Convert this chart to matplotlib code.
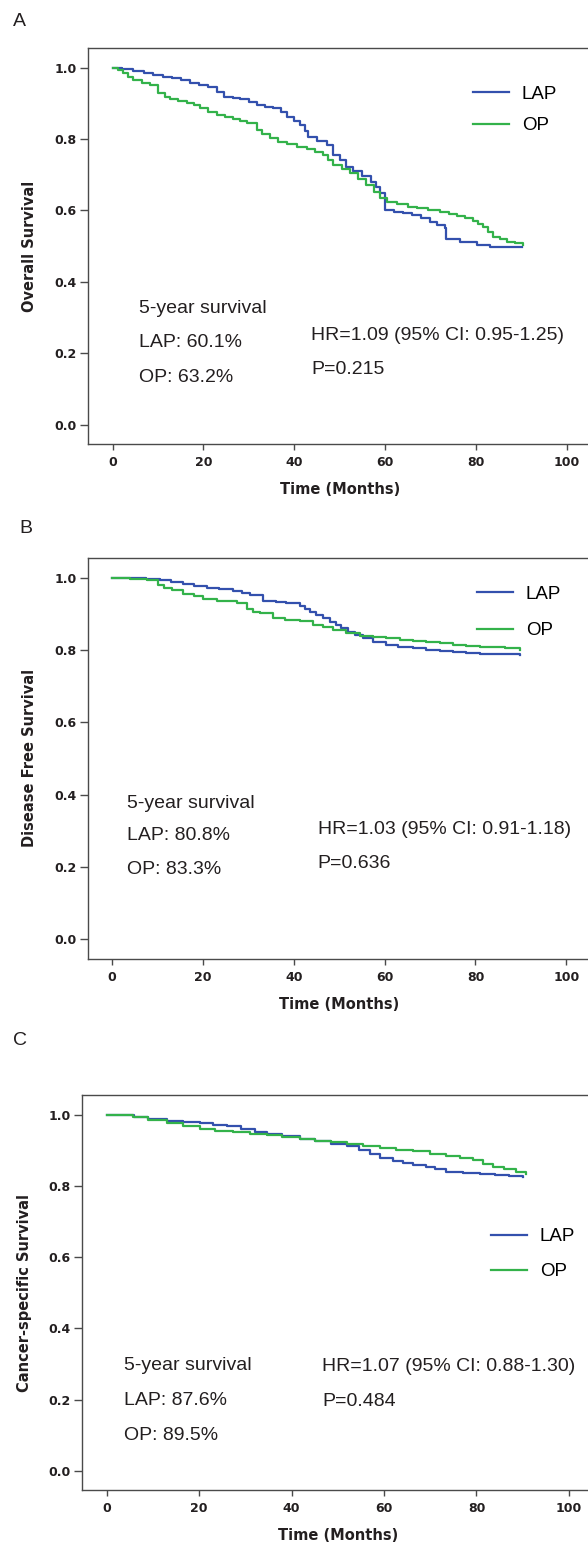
import numpy as np
import matplotlib
matplotlib.use("Agg")
import matplotlib.pyplot as plt

# ---- data (months, survival probability) ----
os_lap_t = [0, 2, 4.5, 7, 9, 11, 13, 15, 17, 19, 21, 23, 24.5, 26.5, 28, 30, 31.7, 33.5, 35.4, 37, 38.3,
            40, 41.3, 42.3, 43.1, 45, 47.1, 48.6, 50, 51.5, 53, 55, 57, 58, 58.9, 60, 62, 64, 66, 68,
            69.9, 71.5, 73.2, 73.5, 76.5, 80.2, 83.1, 87.1, 90.1]
os_lap_s = [1.000, 0.995, 0.991, 0.985, 0.980, 0.975, 0.970, 0.964, 0.958, 0.952, 0.945, 0.932, 0.919,
            0.914, 0.911, 0.903, 0.896, 0.891, 0.888, 0.876, 0.863, 0.850, 0.839, 0.823, 0.807, 0.795,
            0.783, 0.755, 0.740, 0.722, 0.710, 0.697, 0.681, 0.665, 0.648, 0.601, 0.597, 0.592, 0.588,
            0.580, 0.569, 0.560, 0.550, 0.519, 0.513, 0.503, 0.499, 0.497, 0.497]
os_op_t = [0, 1.2, 2.3, 3.5, 4.5, 6.5, 8.2, 10, 11.5, 12.6, 14.5, 16.3, 18, 19.2, 21, 22.9, 24.8, 26.6,
           28, 29.5, 31.7, 33, 34.6, 36.5, 38.3, 40.5, 42.7, 44.5, 46.4, 47.5, 48.6, 50.5, 52.3, 54,
           55.9, 57.5, 58.9, 60.5, 62.6, 65, 67, 69.5, 72.1, 74, 75.8, 77.5, 79.4, 80.5, 81.6, 82.7,
           83.8, 85.3, 86.8, 88.5, 90.4]
os_op_s = [1.000, 0.992, 0.984, 0.975, 0.966, 0.958, 0.950, 0.928, 0.918, 0.912, 0.906, 0.900, 0.894,
           0.888, 0.877, 0.867, 0.861, 0.856, 0.850, 0.844, 0.826, 0.815, 0.802, 0.793, 0.785, 0.778,
           0.771, 0.763, 0.755, 0.740, 0.727, 0.716, 0.704, 0.688, 0.671, 0.652, 0.634, 0.625, 0.618,
           0.611, 0.606, 0.601, 0.597, 0.591, 0.585, 0.578, 0.571, 0.563, 0.555, 0.540, 0.527, 0.520,
           0.513, 0.508, 0.503]

dfs_lap_t = [0, 4.6, 7.5, 10.5, 13, 15.6, 18, 20.8, 23.5, 26.6, 28.5, 30.3, 33.2, 36, 38.4, 41.3, 42.5,
             43.5, 45, 46.4, 48, 49.4, 50.5, 51.9, 53.5, 55.2, 57.5, 60.4, 63, 66.2, 69, 72.1, 75, 78,
             81, 83.8, 86.5, 89.7]
dfs_lap_s = [1.000, 0.998, 0.996, 0.993, 0.988, 0.983, 0.978, 0.972, 0.968, 0.963, 0.957, 0.951, 0.935,
             0.932, 0.931, 0.922, 0.912, 0.905, 0.896, 0.887, 0.877, 0.868, 0.860, 0.850, 0.841, 0.832,
             0.822, 0.813, 0.808, 0.804, 0.800, 0.797, 0.794, 0.792, 0.790, 0.789, 0.788, 0.787]
dfs_op_t = [0, 4, 7.6, 10.1, 11.5, 13.1, 15.6, 18, 20, 23, 27.4, 29.6, 31, 32.5, 35.4, 38, 41.3, 44.2,
            46.5, 48.6, 51.5, 54.5, 57.5, 60.4, 63.3, 66.2, 69, 72.1, 75, 78, 81, 83.8, 86.5, 89.7]
dfs_op_s = [1.000, 0.997, 0.993, 0.979, 0.972, 0.965, 0.954, 0.948, 0.942, 0.935, 0.930, 0.912, 0.906,
            0.901, 0.887, 0.883, 0.880, 0.868, 0.862, 0.855, 0.846, 0.838, 0.835, 0.832, 0.828, 0.825,
            0.821, 0.818, 0.814, 0.811, 0.809, 0.807, 0.804, 0.801]

css_lap_t = [0, 3, 6, 9, 13, 16.5, 20.2, 23, 26, 29, 32, 34.6, 38, 41.8, 45, 48.5, 51.9, 54.5, 57, 59.1,
             62, 64, 66.3, 69, 71, 73.5, 77, 80.7, 84, 87, 90.1]
css_lap_s = [1.000, 0.998, 0.994, 0.988, 0.981, 0.979, 0.977, 0.972, 0.967, 0.960, 0.952, 0.946, 0.939,
             0.932, 0.925, 0.918, 0.911, 0.900, 0.888, 0.878, 0.870, 0.864, 0.859, 0.852, 0.846, 0.840,
             0.837, 0.834, 0.830, 0.827, 0.824]
css_op_t = [0, 3, 5.8, 9, 13, 16.5, 20.2, 23.5, 27.4, 31, 34.6, 38, 41.8, 45, 48.5, 51.9, 55.5, 59.1,
            62.5, 66.3, 70, 73.5, 76.5, 79.3, 81.5, 83.6, 86, 88.5, 90.8]
css_op_s = [1.000, 0.998, 0.993, 0.986, 0.977, 0.968, 0.960, 0.955, 0.950, 0.946, 0.942, 0.937, 0.932,
            0.927, 0.922, 0.918, 0.912, 0.906, 0.901, 0.897, 0.890, 0.883, 0.878, 0.873, 0.862, 0.853,
            0.846, 0.840, 0.834]

panel_letters = ["A", "B", "C"]
y_titles = ["Overall Survival", "Disease Free Survival", "Cancer-specific Survival"]
five_year = [("60.1%", "63.2%"), ("80.8%", "83.3%"), ("87.6%", "89.5%")]
hr_text = ["HR=1.09 (95% CI: 0.95-1.25)", "HR=1.03 (95% CI: 0.91-1.18)", "HR=1.07 (95% CI: 0.88-1.30)"]
p_text = ["P=0.215", "P=0.636", "P=0.484"]
groups = ["LAP", "OP"]

curves = [(os_lap_t, os_lap_s, os_op_t, os_op_s),
          (dfs_lap_t, dfs_lap_s, dfs_op_t, dfs_op_s),
          (css_lap_t, css_lap_s, css_op_t, css_op_s)]

W, H = 588, 1545
blue = "#3350ad"
green = "#33b24a"
ink = "#231f20"
spine_c = "#4a4a4a"

def fx(px):
    return px / W

def fy(py):
    return 1 - py / H

# axes boxes in pixels: left, top, right, bottom
boxes = [(88, 48, 600, 444), (87.5, 557.7, 599.5, 958.7), (81.7, 1095, 602.7, 1490)]
# text anchors in data units
left_txt = [(5.9, [0.314, 0.217, 0.120]), (3.2, [0.364, 0.273, 0.179]), (3.7, [0.282, 0.186, 0.087])]
right_txt = [(43.7, [0.237, 0.142]), (45.3, [0.290, 0.196]), (46.6, [0.279, 0.183])]
letter_pos = [(13, 26), (19, 533), (13, 1045)]
leg_pos = [(472.7, 85.5, 0.77), (476.7, 585.5, 1.04), (490.7, 1228.0, 0.96)]
ylab_x = [-0.10, -0.098, -0.095]

fig = plt.figure(figsize=(W / 100, H / 100), dpi=100)

for i in range(3):
    l, t, r, b = boxes[i]
    ax = fig.add_axes([fx(l), fy(b), (r - l) / W, (b - t) / H])
    lt, ls, ot, os_ = curves[i]
    ax.plot(lt, ls, drawstyle="steps-post", color=blue, lw=1.6, label=groups[0])
    ax.plot(ot, os_, drawstyle="steps-post", color=green, lw=1.6, label=groups[1])
    ax.set_xlim(-5.4, 107.3)
    ax.set_ylim(-0.054, 1.055)
    ax.set_xticks([0, 20, 40, 60, 80, 100])
    ax.set_yticks([0.0, 0.2, 0.4, 0.6, 0.8, 1.0])
    ax.set_yticklabels(["%.1f" % v for v in [0.0, 0.2, 0.4, 0.6, 0.8, 1.0]])
    for s in ["top", "left", "bottom"]:
        ax.spines[s].set_color(spine_c)
        ax.spines[s].set_linewidth(1.0)
    ax.spines["right"].set_visible(False)
    ax.tick_params(axis="y", length=6, width=1.0, color=spine_c, pad=2)
    ax.tick_params(axis="x", length=4.5, width=1.0, color=spine_c, pad=4)
    for lab in ax.get_xticklabels() + ax.get_yticklabels():
        lab.set_fontfamily("DejaVu Sans")
        lab.set_fontweight("bold")
        lab.set_fontsize(9)
        lab.set_color(ink)
    ax.set_xlabel("Time (Months)", fontfamily="DejaVu Sans", fontweight="bold", fontsize=10.5, color=ink)
    ax.xaxis.set_label_coords((50 + 5.4) / 112.7, -0.095)
    ax.set_ylabel(y_titles[i], fontfamily="DejaVu Sans", fontweight="bold", fontsize=10.5, color=ink)
    ax.yaxis.set_label_coords(ylab_x[i], 0.5)

    tx, ty = left_txt[i]
    lines = ["5-year survival", "LAP: " + five_year[i][0], "OP: " + five_year[i][1]]
    for k in range(3):
        ax.text(tx, ty[k], lines[k], fontsize=14, family="Liberation Sans", color=ink, va="baseline")
    rx, ry = right_txt[i]
    ax.text(rx, ry[0], hr_text[i], fontsize=14, family="Liberation Sans", color=ink, va="baseline")
    ax.text(rx, ry[1], p_text[i], fontsize=14, family="Liberation Sans", color=ink, va="baseline")

    gx, gy, lsp = leg_pos[i]
    ax.legend(loc="upper left", bbox_to_anchor=(fx(gx), fy(gy)), bbox_transform=fig.transFigure,
              frameon=False, borderpad=0, borderaxespad=0, handlelength=1.92, handletextpad=0.69,
              labelspacing=lsp, prop={"family": "Liberation Sans", "size": 13.5})

    px_, py_ = letter_pos[i]
    fig.text(fx(px_), fy(py_), panel_letters[i], fontsize=14, family="Liberation Sans", color=ink,
             va="baseline", ha="left")

fig.savefig("out.png", dpi=100)
